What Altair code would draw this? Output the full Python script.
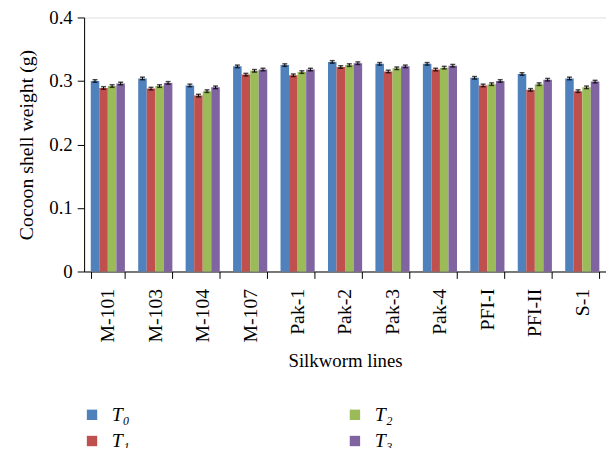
import altair as alt
import pandas as pd

lines = ["M-101", "M-103", "M-104", "M-107", "Pak-1", "Pak-2",
         "Pak-3", "Pak-4", "PFI-I", "PFI-II", "S-1"]
series = ["T₀", "T₁", "T₂", "T₃"]
colors = ["#4F81BD", "#C0504D", "#9BBB59", "#8064A2"]

t0 = [0.300, 0.304, 0.293, 0.323, 0.325, 0.330, 0.327, 0.327, 0.305, 0.311, 0.304]
t1 = [0.289, 0.288, 0.277, 0.310, 0.309, 0.322, 0.315, 0.318, 0.293, 0.286, 0.284]
t2 = [0.292, 0.292, 0.284, 0.316, 0.314, 0.325, 0.320, 0.321, 0.295, 0.295, 0.290]
t3 = [0.296, 0.297, 0.290, 0.318, 0.318, 0.328, 0.323, 0.324, 0.300, 0.302, 0.299]

e0 = [0.002, 0.002, 0.002, 0.002, 0.002, 0.002, 0.002, 0.002, 0.002, 0.002, 0.002]
e1 = [0.002, 0.002, 0.002, 0.002, 0.002, 0.002, 0.002, 0.002, 0.002, 0.002, 0.002]
e2 = [0.002, 0.002, 0.002, 0.002, 0.002, 0.002, 0.002, 0.002, 0.002, 0.002, 0.002]
e3 = [0.002, 0.002, 0.002, 0.002, 0.002, 0.002, 0.002, 0.002, 0.002, 0.002, 0.002]

rows = []
for s, vals, errs in zip(series, [t0, t1, t2, t3], [e0, e1, e2, e3]):
    for ln, v, e in zip(lines, vals, errs):
        rows.append({"line": ln, "series": s, "value": v,
                     "lo": v - e, "hi": v + e})
df = pd.DataFrame(rows)

FONT = "Liberation Serif"

x_enc = alt.X("line:N", sort=lines,
              scale=alt.Scale(paddingInner=0.28, paddingOuter=0.14),
              axis=alt.Axis(title="Silkworm lines", labelAngle=-90,
                            tickBand="extent", tickSize=7, labelPadding=10,
                            titlePadding=10, domainColor="black",
                            tickColor="black", labelFontSize=20,
                            titleFontSize=19, labelColor="black",
                            titleColor="black", titleFontWeight="normal"))
xo_enc = alt.XOffset("series:N", scale=alt.Scale(domain=series))

bars = alt.Chart(df).mark_bar().encode(
    x=x_enc,
    xOffset=xo_enc,
    y=alt.Y("value:Q",
            scale=alt.Scale(domain=[0, 0.4], nice=False),
            axis=alt.Axis(title="Cocoon shell weight (g)",
                          values=[0, 0.1, 0.2, 0.3, 0.4],
                          labelExpr="datum.value == 0 ? '0' : format(datum.value, '.1f')",
                          grid=False, tickSize=7, labelPadding=5,
                          titlePadding=12, domainColor="black",
                          tickColor="black", labelFontSize=19,
                          titleFontSize=20, labelColor="black",
                          titleColor="black", titleFontWeight="normal")),
    color=alt.Color("series:N",
                    scale=alt.Scale(domain=series, range=colors),
                    legend=alt.Legend(title=None, orient="none",
                                      legendX=-2, legendY=392,
                                      columns=2, columnPadding=217,
                                      rowPadding=6.5, symbolType="square",
                                      symbolSize=110, symbolStrokeWidth=0,
                                      labelOffset=10, labelFontSize=20,
                                      labelFontStyle="italic",
                                      labelColor="black", padding=0)),
)

err_rule = alt.Chart(df).mark_rule(color="black", strokeWidth=1).encode(
    x=alt.X("line:N", sort=lines),
    xOffset=xo_enc,
    y="lo:Q",
    y2="hi:Q",
)

err_cap = alt.Chart(df).mark_tick(color="black", thickness=1.5, size=5,
                                  orient="horizontal").encode(
    x=alt.X("line:N", sort=lines),
    xOffset=xo_enc,
    y="hi:Q",
)
err_cap_lo = alt.Chart(df).mark_tick(color="black", thickness=1.5, size=5,
                                     orient="horizontal").encode(
    x=alt.X("line:N", sort=lines),
    xOffset=xo_enc,
    y="lo:Q",
)

chart = alt.layer(bars, err_rule, err_cap, err_cap_lo).properties(
    width=528, height=257,
    autosize=alt.AutoSizeParams(type="none"),
    padding={"left": 77, "top": 7, "right": 0, "bottom": 176},
).configure_view(stroke=None).configure(
    font=FONT
)

chart.save("out.html", embed_options={"renderer": "svg", "actions": False})
